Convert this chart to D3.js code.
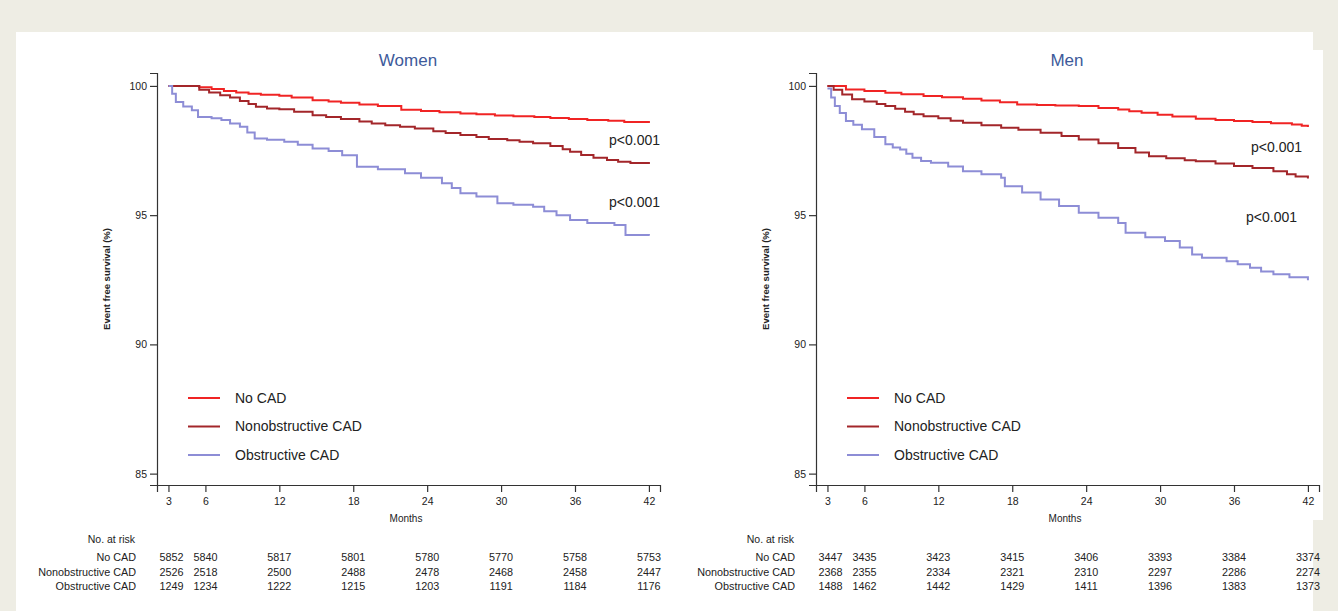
<!DOCTYPE html>
<html>
<head>
<meta charset="utf-8">
<script src="https://cdn.jsdelivr.net/npm/d3@7"></script>
<style>
  body { margin: 0; background: #eeede4; }
  svg { display: block; font-family: "Liberation Sans", Arial, sans-serif; }
</style>
</head>
<body>
<script>
var width = 1338,
    height = 611;

// -- data
var months = [3, 6, 12, 18, 24, 30, 36, 42];
var groups = ["No CAD", "Nonobstructive CAD", "Obstructive CAD"];
var titles = ["Women", "Men"];

var womenNoCAD = [[3,100],[4.5,100],[5.5,99.95],[6.5,99.88],[7.5,99.8],[8.5,99.75],[9.5,99.7],[10.5,99.66],[12,99.62],[13,99.55],[14.7,99.45],[16,99.4],[17,99.35],[18.5,99.28],[20,99.22],[21.9,99.08],[23.5,99.03],[25,98.98],[26.7,98.93],[28,98.9],[29.5,98.86],[31,98.83],[32.7,98.8],[34,98.76],[35.5,98.72],[37,98.68],[38.7,98.65],[40,98.6],[42,98.57]];
var womenNonobs = [[3,100],[4.8,100],[5.5,99.85],[6.3,99.75],[7.2,99.64],[8,99.55],[8.8,99.42],[9.5,99.3],[10.1,99.19],[11,99.13],[12,99.1],[13.2,99.0],[14.7,98.87],[15.8,98.8],[17,98.72],[18.5,98.62],[19.5,98.55],[20.6,98.48],[21.8,98.42],[23,98.35],[24.5,98.25],[25.5,98.18],[26.7,98.1],[28,98.02],[29,97.95],[30.5,97.9],[31.5,97.84],[32.6,97.78],[34,97.68],[35,97.55],[35.6,97.45],[36.5,97.33],[37.5,97.22],[38.6,97.13],[39.5,97.07],[40.5,97.02],[42,96.98]];
var womenObs = [[3,100],[3.3,99.7],[3.6,99.38],[4.2,99.2],[4.9,99.06],[5.4,98.8],[6.5,98.75],[7.3,98.68],[8,98.55],[8.8,98.42],[9.4,98.2],[10,97.97],[11,97.92],[12.4,97.84],[13.5,97.72],[14.7,97.58],[16,97.48],[17.1,97.32],[18.3,96.87],[20,96.78],[22.2,96.62],[23.5,96.45],[25.2,96.23],[26,96.05],[26.7,95.85],[28,95.72],[29.7,95.46],[31,95.4],[32.6,95.33],[33.5,95.15],[34.5,95.0],[35.6,94.81],[37,94.7],[39.2,94.62],[40.1,94.23],[42,94.2]];

var menNoCAD = [[3,100],[4.5,99.86],[6,99.8],[7.7,99.74],[9,99.68],[10.8,99.61],[12.3,99.56],[14,99.5],[15.5,99.44],[17,99.37],[18.4,99.28],[20,99.26],[21.5,99.24],[23.4,99.22],[25,99.15],[26.6,99.09],[27.5,99.02],[28.5,98.96],[29.8,98.88],[31,98.82],[32.9,98.73],[34.5,98.68],[36,98.64],[37.5,98.6],[39,98.56],[40.7,98.51],[41.5,98.46],[42,98.41]];
var menNonobs = [[3,100],[3.5,99.85],[4.2,99.67],[5,99.48],[6,99.4],[7,99.3],[7.7,99.22],[8.5,99.12],[9.3,99.0],[10,98.9],[10.8,98.83],[12,98.75],[13,98.65],[14,98.58],[15.5,98.48],[17.1,98.38],[18.5,98.3],[20.3,98.19],[22,98.06],[23.4,97.93],[25,97.78],[26.6,97.6],[28,97.42],[29.1,97.28],[30.5,97.2],[32,97.12],[32.9,97.09],[34.5,97.0],[36,96.9],[37.5,96.82],[39.2,96.7],[40.3,96.58],[41,96.5],[42,96.42]];
var menObs = [[3,99.9],[3.3,99.55],[3.6,99.22],[4,98.95],[4.5,98.64],[5.1,98.5],[5.8,98.32],[6.8,98.02],[7.7,97.74],[8.3,97.62],[8.9,97.54],[9.4,97.38],[9.9,97.22],[10.6,97.1],[11.4,97.03],[12.8,96.88],[14,96.7],[15.5,96.58],[17.1,96.45],[17.4,96.12],[18.8,95.88],[20.3,95.61],[21.8,95.35],[23.4,95.09],[25,94.9],[26.6,94.7],[27.2,94.32],[28.8,94.15],[30.4,94.0],[31.6,93.75],[32.6,93.48],[33.4,93.35],[35.4,93.22],[36.3,93.1],[37.3,92.97],[38.2,92.82],[39.2,92.71],[40.5,92.6],[42,92.48]];

var womenRiskNoCAD  = [5852, 5840, 5817, 5801, 5780, 5770, 5758, 5753];
var womenRiskNonobs = [2526, 2518, 2500, 2488, 2478, 2468, 2458, 2447];
var womenRiskObs    = [1249, 1234, 1222, 1215, 1203, 1191, 1184, 1176];
var menRiskNoCAD    = [3447, 3435, 3423, 3415, 3406, 3393, 3384, 3374];
var menRiskNonobs   = [2368, 2355, 2334, 2321, 2310, 2297, 2286, 2274];
var menRiskObs      = [1488, 1462, 1442, 1429, 1411, 1396, 1383, 1373];

var pLabels = ["p<0.001", "p<0.001"];

var colors = ["#f02424", "#a3262a", "#8d8dd6"];

var svg = d3.select("body").append("svg")
    .attr("width", width)
    .attr("height", height);

// white card (with the odd notch at top right of the source)
svg.append("rect").attr("x", 16).attr("y", 32).attr("width", 1297).attr("height", height - 32).attr("fill", "#fff");
svg.append("rect").attr("x", 1313).attr("y", 50).attr("width", 10).attr("height", 470).attr("fill", "#fff");

var x = d3.scaleLinear().domain([2.07, 42.9]).range([157, 660]),
    y = d3.scaleLinear().domain([84.56, 100.5]).range([485, 73]);

var line = d3.line()
    .curve(d3.curveStepAfter)
    .x(function(d) { return x(d[0]); })
    .y(function(d) { return y(d[1]); });

function drawPanel(dx, title, curves, risk, pPos) {
  var g = svg.append("g").attr("transform", "translate(" + dx + ",0)");

  g.append("text")
      .attr("x", 408).attr("y", 66)
      .attr("text-anchor", "middle")
      .style("font-size", "17px")
      .style("fill", "#3d5a9a")
      .text(title);

  var xa = g.append("g")
      .attr("transform", "translate(0," + y.range()[0] + ")")
      .call(d3.axisBottom(x).tickValues(months).tickSizeOuter(0).tickSize(7).tickPadding(6));
  var ya = g.append("g")
      .attr("transform", "translate(" + x.range()[0] + ",0)")
      .call(d3.axisLeft(y).tickValues([85, 90, 95, 100]).tickSizeOuter(0).tickSize(7).tickPadding(3));

  [xa, ya].forEach(function(a) {
    a.selectAll("path, line").attr("stroke", "#333").attr("stroke-width", 1.2);
    a.selectAll("text").style("font-size", "10.5px").style("fill", "#222");
  });

  g.append("text")
      .attr("transform", "translate(110,279) rotate(-90)")
      .attr("text-anchor", "middle")
      .style("font-size", "9.5px")
      .style("font-weight", "bold")
      .style("fill", "#222")
      .text("Event free survival (%)");

  g.append("text")
      .attr("x", 406).attr("y", 522)
      .attr("text-anchor", "middle")
      .style("font-size", "10px")
      .style("fill", "#222")
      .text("Months");

  g.selectAll("path.km")
      .data(curves)
    .enter().append("path")
      .attr("class", "km")
      .attr("d", line)
      .attr("fill", "none")
      .attr("stroke", function(d, i) { return colors[i]; })
      .attr("stroke-width", 2);

  g.selectAll("text.pval")
      .data(pPos)
    .enter().append("text")
      .attr("class", "pval")
      .attr("x", function(d) { return d[0]; })
      .attr("y", function(d) { return d[1]; })
      .attr("dy", "0.35em")
      .attr("text-anchor", "end")
      .style("font-size", "14px")
      .style("fill", "#222")
      .text(function(d, i) { return pLabels[i]; });

  // legend
  var lg = g.selectAll("g.leg")
      .data(groups)
    .enter().append("g")
      .attr("class", "leg")
      .attr("transform", function(d, i) { return "translate(0," + (398 + i * 28.5) + ")"; });
  lg.append("line")
      .attr("x1", 188).attr("x2", 220)
      .attr("stroke", function(d, i) { return colors[i]; })
      .attr("stroke-width", 2);
  lg.append("text")
      .attr("x", 235).attr("dy", "0.35em")
      .style("font-size", "14px")
      .style("fill", "#222")
      .text(function(d) { return d; });

  // numbers at risk
  g.append("text")
      .attr("x", 135).attr("y", 543)
      .attr("text-anchor", "end")
      .style("font-size", "10.5px")
      .style("fill", "#222")
      .text("No. at risk");

  var rows = g.selectAll("g.risk")
      .data(risk)
    .enter().append("g")
      .attr("class", "risk")
      .attr("transform", function(d, i) { return "translate(0," + (561 + i * 14.5) + ")"; });
  rows.append("text")
      .attr("x", 136)
      .attr("text-anchor", "end")
      .style("font-size", "10.8px")
      .style("fill", "#222")
      .text(function(d, i) { return groups[i]; });
  rows.selectAll("text.n")
      .data(function(d) { return d; })
    .enter().append("text")
      .attr("class", "n")
      .attr("x", function(d, i) { return x(months[i]) + (i == 0 ? 3 : 0); })
      .attr("text-anchor", "middle")
      .style("font-size", "10.8px")
      .style("fill", "#222")
      .text(function(d) { return d; });
}

drawPanel(0, titles[0], [womenNoCAD, womenNonobs, womenObs],
    [womenRiskNoCAD, womenRiskNonobs, womenRiskObs], [[660, 140], [660, 202]]);
drawPanel(659, titles[1], [menNoCAD, menNonobs, menObs],
    [menRiskNoCAD, menRiskNonobs, menRiskObs], [[643, 147], [638, 217]]);
</script>
</body>
</html>
